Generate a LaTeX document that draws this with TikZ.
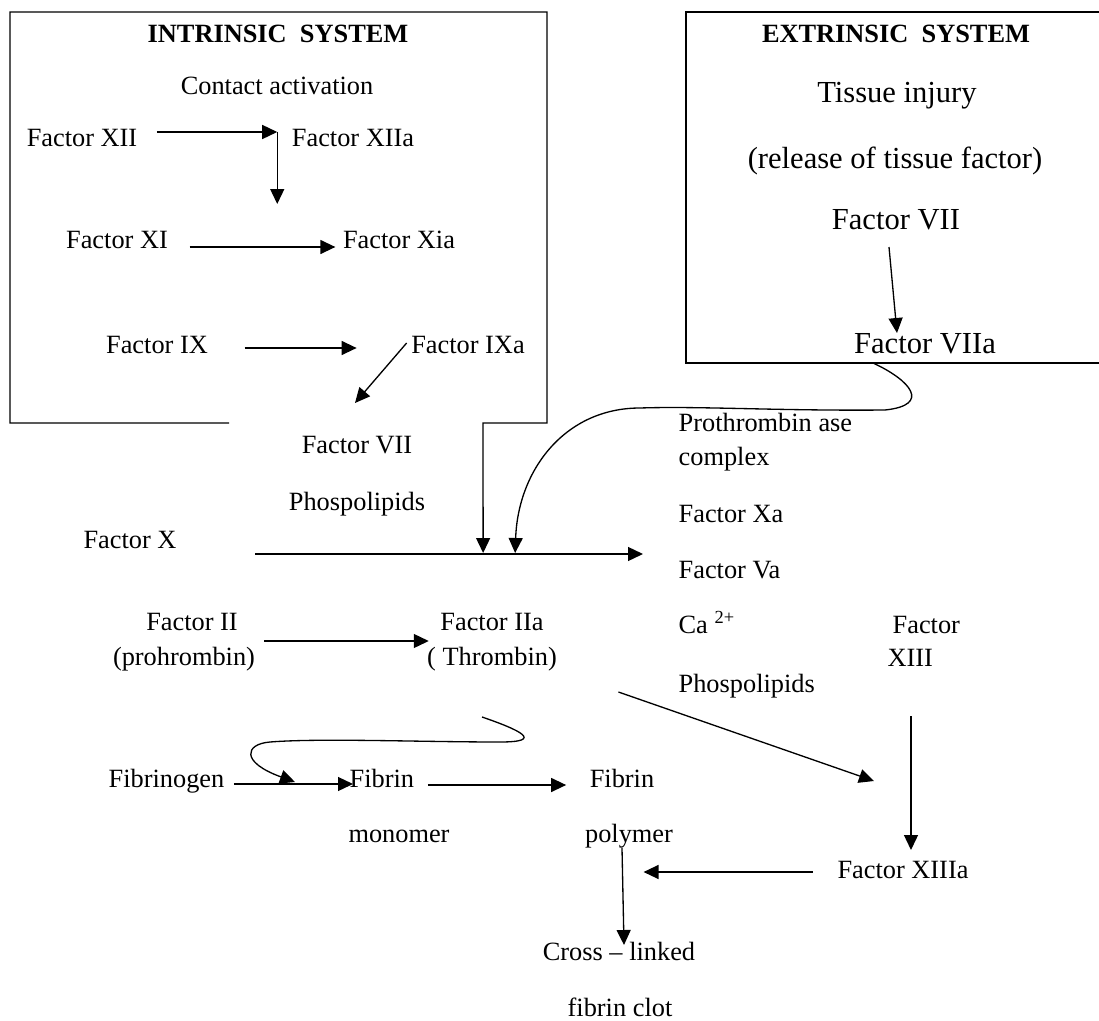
\documentclass[tikz,border=0pt]{standalone}
\usepackage{fontspec}
\setmainfont{Liberation Serif}
\usetikzlibrary{positioning,arrows.meta,calc}

\begin{document}
\begin{tikzpicture}[
  x=0.02cm, y=-0.02cm,
  line width=0.75pt,
  lbl/.style={font=\fontsize{15}{18}\selectfont, inner sep=0pt, anchor=base},
  lbll/.style={lbl, anchor=base west},
  big/.style={lbl, font=\fontsize{17.4}{21}\selectfont},
  head/.style={lbl, font=\fontsize{15}{18}\selectfont\bfseries},
  arr/.style={-{Triangle[length=0.3cm,width=0.28cm]}},
]
  \useasboundingbox (0,0) rectangle (1099,1021);

  % ---- intrinsic system -----------------------------------------------------
  \node[head] (ihead) at (278,42) {INTRINSIC\ \ SYSTEM};
  \node[lbl] (contact) at (277,94) {Contact activation};
  \node[lbl] (xii) at (82,146) {Factor XII};
  \node[lbl] (xiia) at (353,146) {Factor XIIa};
  \node[lbl] (xi) at (117,248) {Factor XI};
  \node[lbl] (xia) at (399,248) {Factor Xia};
  \node[lbl] (ix) at (157,353) {Factor IX};
  \node[lbl] (ixa) at (468,353) {Factor IXa};
  \node[lbl] (fvii) at (357,453) {Factor VII};
  \node[lbl] (phos1) at (357,510) {Phospolipids};
  \node[lbl] (fx) at (130,548) {Factor X};

  % ---- extrinsic system -----------------------------------------------------
  \node[head] (ehead) at (896,42) {EXTRINSIC\ \ SYSTEM};
  \node[big] (tissue) at (897,102) {Tissue injury};
  \node[big] (release) at (895,168) {(release of tissue factor)};
  \node[big] (evii) at (896,229) {Factor VII};
  \node[big] (eviia) at (925,353) {Factor VIIa};

  % ---- prothrombinase complex -----------------------------------------------
  \node[lbll] (pase) at (678,431) {Prothrombin ase};
  \node[lbll] (cplx) at (678,465) {complex};
  \node[lbll] (fxa) at (678,522) {Factor Xa};
  \node[lbll] (fva) at (678,578) {Factor Va};
  \node[lbll] (ca) at (678,633) {Ca \textsuperscript{2+}};
  \node[lbll] (phos2) at (678,692) {Phospolipids};
  \node[lbll] (fxiii) at (892,633) {Factor};
  \node[lbll] (xiii) at (887,666) {XIII};

  % ---- common pathway -------------------------------------------------------
  \node[lbl] (fii) at (192,630) {Factor II};
  \node[lbl] (prothr) at (184,665) {(prohrombin)};
  \node[lbl] (fiia) at (492,630) {Factor IIa};
  \node[lbl] (thr) at (492,665) {( Thrombin)};
  \node[lbll] (fbgn) at (108,787) {Fibrinogen};
  \node[lbll] (fbn1) at (349,787) {Fibrin};
  \node[lbl] (mono) at (399,842) {monomer};
  \node[lbl] (fbn2) at (622,787) {Fibrin};
  \node[lbl] (poly) at (629,842) {polymer};
  \node[lbl] (fxiiia) at (903,878) {Factor XIIIa};
  \node[lbl] (cross) at (619,960) {Cross -- linked};
  \node[lbl] (clot) at (620,1016) {fibrin clot};

  % ---- connectors -----------------------------------------------------------
  \coordinate (xiiturn) at ($(xiia.base west)+(-14,-14)$);
  \coordinate (xiiend) at ($(xiiturn)+(0,72)$);
  \coordinate (xstart) at ($(fx.base east)+(78,6)$);
  \coordinate (hita) at ($(fx.base east)+(306,5)$);
  \coordinate (hitb) at ($(fx.base east)+(338,5)$);
  \coordinate (viiout) at ($(eviia.base)+(-52,10)$);

  \draw[arr] ($(xii.base east)+(19,-14)$) -- (xiiturn);
  \draw[arr] (xiiturn) -- (xiiend);
  \draw[arr] ($(xi.base east)+(21,-1)$) -- ($(xia.base west)+(-7,-1)$);
  \draw[arr] ($(ix.base east)+(36,-5)$) -- ($(ixa.base west)+(-54,-5)$);
  \draw[arr] ($(ixa.base west)+(-4,-10)$) -- ($(fvii.base)+(-2,-50)$);

  % boxes
  \draw[arr] (229,423) -- (10,423) -- (10,12) -- (547,12) -- (547,423)
    -- (483,423) -- (hita);
  \draw (1099,12) -- (686,12) -- (686,363) -- (1099,363);

  \draw[arr] ($(evii.base)+(-7,18)$) -- ($(eviia.base)+(-28,-20)$);
  \draw[arr] (viiout) .. controls (910,380) and (932,405) .. (885,410)
    .. controls (780,411) and (700,406) .. (640,408)
    .. controls (565,408) and (518,470) .. (hitb);
  \draw[arr] (xstart) -- ($(fxa.base west)+(-35,32)$);

  \draw[arr] ($(fii.base east)+(26,11)$) -- ($(fiia.base west)+(-11,11)$);
  \draw[arr] ($(thr.base)+(-10,52)$) .. controls (520,730) and (545,742) .. (500,742)
    .. controls (420,742) and (320,738) .. (270,742)
    .. controls (245,744) and (240,762) .. ($(fbgn.base east)+(70,-5)$);
  \draw[arr] ($(fbgn.base east)+(9,-3)$) -- ($(fbn1.base west)+(4,-3)$);
  \draw[arr] ($(fbn1.base east)+(13,-2)$) -- ($(fbn2.base west)+(-23,-2)$);
  \draw[arr] ($(thr.base east)+(61,27)$) -- ($(fxiiia.base)+(-29,-97)$);
  \draw[arr] ($(xiii.base west)+(24,50)$) -- ($(fxiiia.base)+(8,-28)$);
  \draw[arr] ($(fxiiia.base west)+(-24,-6)$) -- ($(poly.base east)+(-30,30)$);
  \draw[arr] ($(poly.base)+(-7,6)$) -- ($(cross.base)+(5,-15)$);
\end{tikzpicture}
\end{document}
